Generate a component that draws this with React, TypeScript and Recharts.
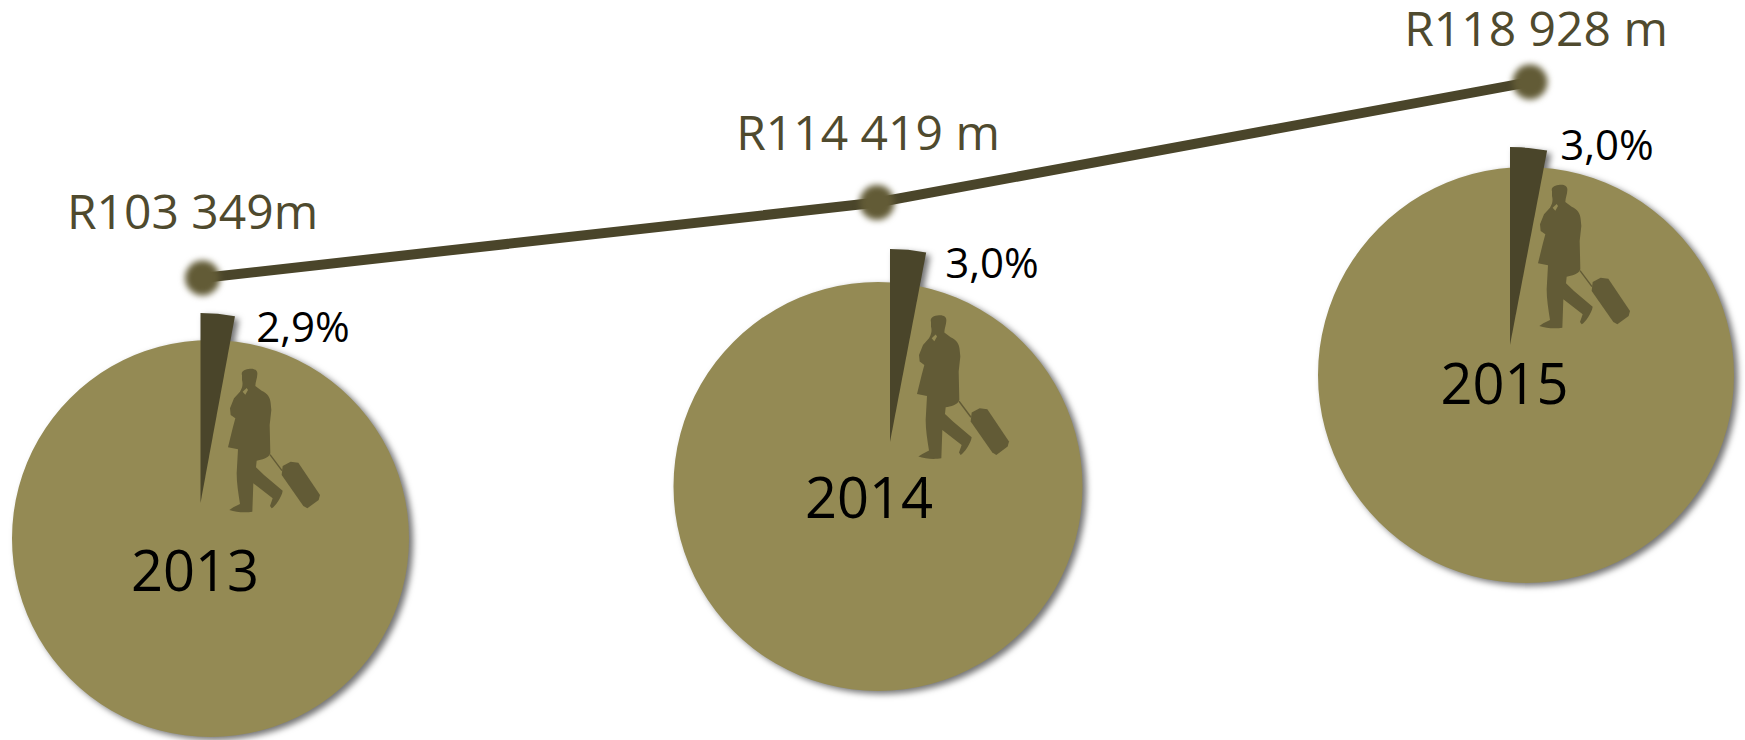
import React from "react";
import { LineChart, Line, XAxis, YAxis, PieChart, Pie, Cell } from "recharts";

const years = [2013, 2014, 2015];
const revenue = [103349, 114419, 118928];
const revenueLabels = ["R103 349m", "R114 419 m", "R118 928 m"];
const shares = [2.9, 3.0, 3.0];
const shareLabels = ["2,9%", "3,0%", "3,0%"];

const W = 1745;
const H = 740;
const FONT = "'Open Sans', sans-serif";
const OLIVE = "#948a54";
const DARK = "#4a452a";
const MAN = "#625b36";
const TEXT = "#4f4a2e";

// The source infographic's axes are not uniform: calibrated piecewise scales.
function piecewise(points: number[][]): any {
  let dom = [points[0][0], points[points.length - 1][0]];
  let rng = [0, 1];
  const s: any = (v: number) => {
    let f = 0;
    for (let i = 0; i < points.length - 1; i++) {
      const [a, fa] = points[i];
      const [b, fb] = points[i + 1];
      if (v <= b || i === points.length - 2) {
        f = fa + ((v - a) / (b - a)) * (fb - fa);
        break;
      }
    }
    return rng[0] + f * (rng[1] - rng[0]);
  };
  s.domain = (d?: number[]) => (d ? ((dom = d), s) : dom);
  s.range = (r?: number[]) => (r ? ((rng = r), s) : rng);
  s.copy = () => piecewise(points);
  s.ticks = () => points.map((p) => p[0]);
  return s;
}
const xScale = piecewise([[2013, 0], [2014, 0.5081], [2015, 1]]);
const yScale = piecewise([[103349, 0], [114419, 0.385], [118928, 1]]);

const lineData = years.map((year, i) => ({ year, revenue: revenue[i], label: revenueLabels[i] }));

const circles = [
  { cx: 210.5, cy: 538.5, r: 198.5 },
  { cx: 878, cy: 486.5, r: 204.5 },
  { cx: 1526, cy: 375, r: 208 },
];
const wedges = [
  { cx: 200.5, cy: 503, r: 190 },
  { cx: 890, cy: 442, r: 193 },
  { cx: 1510, cy: 345, r: 198 },
];
const labelOffsets = [
  { dx: -10, dy: -49 },
  { dx: -9, dy: -53 },
  { dx: 6, dy: -36 },
];
const sharePos = [
  { x: 303, y: 342 },
  { x: 992, y: 278 },
  { x: 1607, y: 160 },
];
const yearPos = [
  { x: 195, y: 591 },
  { x: 869, y: 518 },
  { x: 1504.5, y: 404 },
];
const manPos = [
  { x: 220, y: 360 },
  { x: 909, y: 306.6 },
  { x: 1530, y: 176 },
];

const BODY =
  "M66 46 C62 33 75 27 90 26 C105 25 113 32 112 42 C112 55 106 65 106 78 L125 92 C142 100 151 112 152 130 L154 150 L149 195 L151 280 C146 295 125 300 110 302 L108 322 L132 345 L188 392 C186 410 165 440 155 445 L150 438 L158 415 L100 370 L97 455 C80 458 50 458 28 450 L40 442 L60 432 C55 400 50 370 50 340 L54 268 L24 262 L38 205 L46 175 L32 165 L30 145 L42 115 L60 95 C66 85 70 75 66 60 Z";
const HAND = "M68 95 L80 84 L84 90 L76 104 Z";
const CASE = "M188 318 L212 305 L235 308 L300 405 L296 420 L262 445 L250 438 L185 345 Z";

function Dot(props: any) {
  const { cx, cy, index } = props;
  return <circle key={index} cx={cx} cy={cy} r={17.5} fill={MAN} style={{ filter: "blur(3px)" }} />;
}

function RevenueLabel(props: any) {
  const { x, y, index } = props;
  const o = labelOffsets[index];
  return (
    <text key={index} x={x + o.dx} y={y + o.dy} textAnchor="middle" fontFamily={FONT} fontSize={48} fill={TEXT}>
      {revenueLabels[index]}
    </text>
  );
}

export default function App() {
  return (
    <div style={{ position: "absolute", left: 0, top: 0, width: W, height: H, background: "#fff", overflow: "hidden" }}>
      <div style={{ position: "absolute", left: 0, top: 0, filter: "drop-shadow(4px 3px 3px rgba(0,0,0,0.55))" }}>
        <PieChart width={W} height={H} margin={{ top: 0, right: 0, bottom: 0, left: 0 }}>
          {years.map((y, i) => (
            <Pie
              key={"c" + y}
              data={[{ name: y, value: 100 }]}
              dataKey="value"
              cx={circles[i].cx}
              cy={circles[i].cy}
              outerRadius={circles[i].r}
              innerRadius={0}
              startAngle={90}
              endAngle={-270}
              stroke="none"
              fill={OLIVE}
              isAnimationActive={false}
            />
          ))}
          {years.map((y, i) => (
            <Pie
              key={"w" + y}
              data={[
                { name: "share", value: shares[i] },
                { name: "rest", value: 100 - shares[i] },
              ]}
              dataKey="value"
              cx={wedges[i].cx}
              cy={wedges[i].cy}
              outerRadius={wedges[i].r}
              innerRadius={0}
              startAngle={90}
              endAngle={-270}
              stroke="none"
              isAnimationActive={false}
            >
              <Cell fill={DARK} />
              <Cell fill="none" />
            </Pie>
          ))}
        </PieChart>
      </div>
      <svg width={W} height={H} style={{ position: "absolute", left: 0, top: 0 }}>
        {manPos.map((p, i) => (
          <g key={i} transform={`translate(${p.x} ${p.y}) scale(${1 / 3})`}>
            <path d={BODY} fill={MAN} />
            <path d={HAND} fill={OLIVE} />
            <path d={CASE} fill={MAN} />
            <path d="M150 284 L186 332" stroke={MAN} strokeWidth={4} fill="none" />
          </g>
        ))}
        {years.map((y, i) => (
          <text key={"s" + y} x={sharePos[i].x} y={sharePos[i].y} textAnchor="middle" fontFamily={FONT} fontSize={42} fill="#000">
            {shareLabels[i]}
          </text>
        ))}
        {years.map((y, i) => (
          <text key={"y" + y} x={yearPos[i].x} y={yearPos[i].y} textAnchor="middle" fontFamily={FONT} fontSize={56} fill="#000">
            {y}
          </text>
        ))}
      </svg>
      <div style={{ position: "absolute", left: 0, top: 0 }}>
        <LineChart width={W} height={H} data={lineData} margin={{ top: 82, right: 215, bottom: 462, left: 202.5 }}>
          <XAxis dataKey="year" type="number" domain={[2013, 2015]} scale={xScale} hide />
          <YAxis dataKey="revenue" type="number" domain={[103349, 118928]} scale={yScale} hide />
          <Line
            dataKey="revenue"
            stroke={DARK}
            strokeWidth={10}
            dot={Dot}
            activeDot={false}
            label={RevenueLabel}
            isAnimationActive={false}
          />
        </LineChart>
      </div>
    </div>
  );
}
